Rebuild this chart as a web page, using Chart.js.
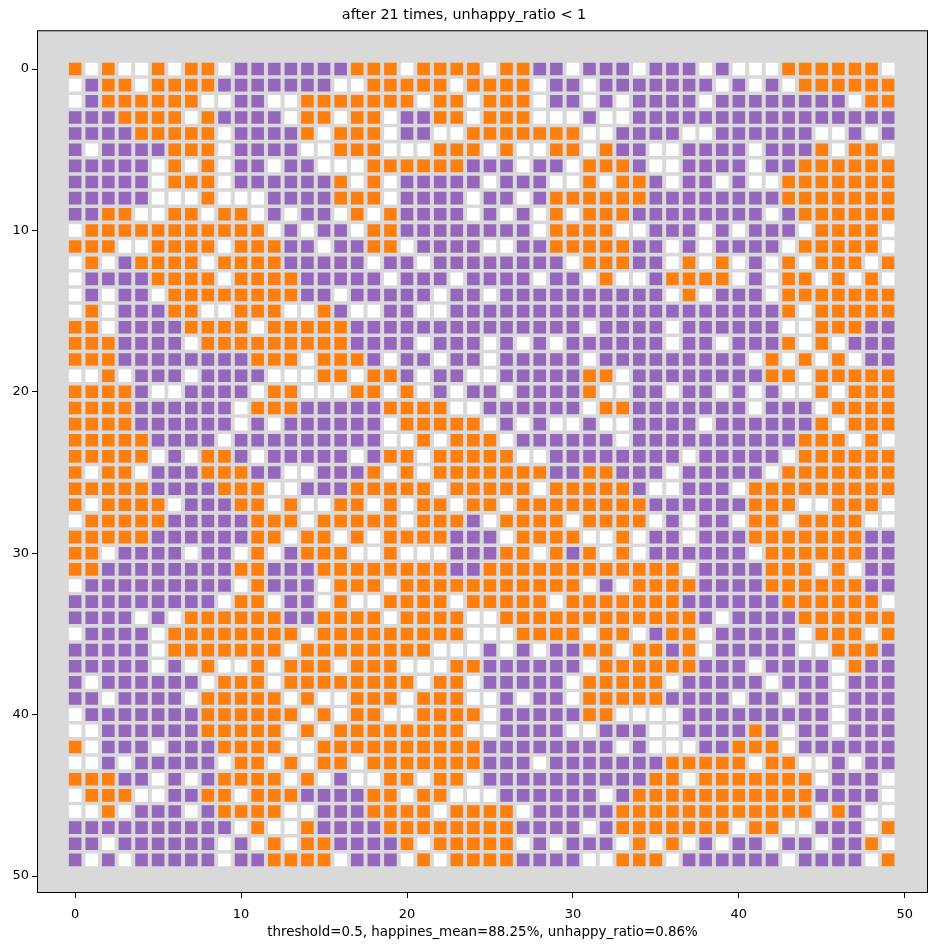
<!DOCTYPE html>
<html>
<head>
<meta charset="utf-8">
<script src="https://cdn.jsdelivr.net/npm/chart.js@4.4.1/dist/chart.umd.min.js"></script>
<style>
  body { margin: 0; background: #fff; }
</style>
</head>
<body>
<canvas id="chart" width="938" height="950"></canvas>
<script>
const titleText = "after 21 times, unhappy_ratio < 1";
const xLabel = "threshold=0.5, happines_mean=88.25%, unhappy_ratio=0.86%";
const xTicks = [0, 10, 20, 30, 40, 50];
const yTicks = [0, 10, 20, 30, 40, 50];

// one string per grid row (y), one char per column (x)
// o = orange agent, p = purple agent, . = empty cell
// spaces only split the row into chunks: cols 0-12 | 13-24 | 25 | 26-36 | 37-49
const gridRows = [
  "o.o..o.oo.ppp ppppooo.oooo . oopp.ppp.pp p.p...oooooo.",
  ".poo.oooopppp ppp..ooooo.o o oo.pp.ppppp pp.p.p.oooooo",
  ".poooooo..pp. .ooooooo.oo. o oo.pp.p.ppp p.pppppppp.oo",
  "pppoooo.opppp .oo.oo.ppoo. o oo...p..ppp ppppppppppppp",
  "ppppooooo.ppp po.ooo.pp..o o ooooo..pppp ..pppppp..p.p",
  "p.ppppooo.ppp p..ooo...ooo . o..oo.opp.. pppp.pppo.oo.",
  "ppppp.o.o.pp. pp...oooooop p p.pp.ooop.. pppp.ppoooooo",
  "ppppp.ooo.ppp pppo.o.ppppp . ppp..o.oop. pp.p..ooooooo",
  "ppppp...o...p pppooo.pppp. p p.poooooopp ppppppooooooo",
  "ppoo..oo.oo.p .pp.o.opppp. p .p.o.oooppp ppppp.poooooo",
  ".ooooooooooo. p.pp.ooppppp p pp.oooo..pp p.p.ppp.oooo.",
  "ooo..oooo.ooo pp.ppoo.pppp . .ppooooopp. p.pppp.ooooo.",
  ".o.poooo.oooo ppppp.pp.ppp p pppp.ooopp. o.o.p.o.ooo.o",
  ".ppppoooo.ooo oppppp.ppp.p p pp.pp.o..po ooo.p.oo.o.o.",
  ".p.pp.ooooooo opp.ppppp.pp . pppppppppp. o.ppp.ooooooo",
  ".o.pppoo..ooo ..op..pp..pp p ppppppppppp ppppppo.ooooo",
  "oo.ppppoooo.o oooopppppppp p ppppp.pppp. pppppp..ooopp",
  "ooopppp.ooooo oooopppp.ppp . p.p.pppppp. pp.pppo.o.ppp",
  "oooppppppppoo o.ooop.pp.pp . ppppp.ppppp pppp.o.o.o.pp",
  "..o.ppp.pppp. ..oo.oop.pp. . pppppoo.ppp pppppoo.ooooo",
  "oooop..pppp.o o...oo.o.p.p p .ppppo..pp. pp.p.p..o.ooo",
  "oooopppppp.oo opppppoooo.. p ppppp.ooppp pppp.ppp.oooo",
  "oooopppppp.p. pppppp.ooooo . p.p..p..ppp p.ppppppo.ooo",
  "ooooopppp.ppp pppppp..o.oo o .pppppp.ppp pppppppooo.o.",
  "ooooo.p.oop.p pppp.poo.ooo o o..pppppppp .ppppp.oooooo",
  "o.oo.pppooopp ..pppo.o.ooo o oooppooppp. ppppp.ooooooo",
  "oooooppppooo. .pppooooo.oo o oo.ooooop.. ppp.ooooooooo",
  "o.oooo.pppoo. o..oo.o.oo.o o .oooooooopp ppppooo..ooo.",
  ".ooooopppppoo o.ooooo.ooop . oooo.oooo.p .pp.oo.oooo..",
  "oooooppppppoo .oo.o.oooopp p .oooo..o.pp .pppooooooopp",
  "oo.pppp.pp.o. pooo..o...pp p oo.opo.o.pp pppp.oooooopp",
  "ooppppppppoop ppoooooooopp o ooooooooooo .ppppooo.o.pp",
  ".ppppppppp.op pp.ooo.ooooo o ooooo.p.ooo oppppoooooopp",
  "ppppppppp.oo. pp.o..oooo.o o ooo.ooooooo ppppppoooooo.",
  "pppp.p.oooooo ppoooo.oooo. . ooooooooooo op.ppppoooooo",
  ".pppp.ooooooo o.ooooooooo. . .oooo.oo.po o.ppppp.ooo.o",
  "ppppp.ooooooo .oooooooo... p .p.ppoo.oop o.ppppp..ooop",
  "ppppp.p.o..o. ooo.ooo...oo p ppppp.ooooo oppp.pppp.opp",
  "p.pppppp.ooo. oooooooo.oo. p pppp.ooooo. ppppp.ppp.ppp",
  "pp.pppp.ooooo .o..ooo.ooo. . p.pp.ooooop ppp.pp.pp.ppp",
  ".pppppppooooo o.o.oo..oooo . pppppoo.... ppppppppp.ppp",
  "..ppppppooooo .o.oooooooo. . pppp..ppp.. ppppop.pp.ppp",
  "o.ppp.pppoooo ..oooooooooo p ppppppp.p.. .ppooo.pppppp",
  "..p.ppppp.oo. o.oo.ooooooo p pp.pppppppo oooo.oo..p.pp",
  "ooopp.p.poooo .o.p..oo.oo. p pppppppppoo .ooooooo.ppp.",
  ".ooo..ppoo.oo oppppoo.oo.. . pppppp.pooo oooooooopppp.",
  "..o.ppp.poooo ..pppoooo.oo o o.pppppoooo oooooooo.op..",
  "pppppppppp.o. .oppppoooooo o opppp.poooo ooo.oo..ppp.o",
  "pp.pppppp.p.o .ooppppo.ooo o o.p.ppp.o.o .p.pp.pp.ppo.",
  "p.p.ppppp.ppo ooo.ppp.o.oo o opppp..ooo. pppppp.pppp.o"
];

const grid = gridRows.map((r, i) => {
  const s = r.replace(/ /g, "");
  if (s.length !== 50) throw new Error("row " + i + " has " + s.length + " cells");
  return s;
});

function cellsOf(kind) {
  const pts = [];
  grid.forEach((row, y) => {
    row.split("").forEach((c, x) => {
      if (c === kind) pts.push({ x, y });
    });
  });
  return pts;
}

const FONT = "'DejaVu Sans', sans-serif";

// grey axes background + black frame, like matplotlib
const frame = {
  id: "frame",
  beforeDatasetsDraw(chart) {
    const { ctx, chartArea: a } = chart;
    ctx.save();
    ctx.fillStyle = "#d9d9d9";
    ctx.fillRect(a.left, a.top, a.right - a.left, a.bottom - a.top);
    ctx.restore();
  },
  afterDraw(chart) {
    const { ctx, chartArea: a } = chart;
    ctx.save();
    ctx.strokeStyle = "#000";
    ctx.lineWidth = 1;
    ctx.strokeRect(a.left + 0.5, a.top + 0.5, a.right - a.left - 1, a.bottom - a.top - 1);
    ctx.restore();
  }
};

function square(color, label, kind) {
  return {
    label,
    data: cellsOf(kind),
    pointStyle: "rect",
    pointRadius: 8.9,
    pointHoverRadius: 8.9,
    pointBorderWidth: 0,
    backgroundColor: color,
    borderColor: color
  };
}

new Chart(document.getElementById("chart"), {
  type: "scatter",
  data: {
    datasets: [
      square("#ff7f0e", "orange", "o"),
      square("#9467bd", "purple", "p"),
      square("#ffffff", "empty", ".")
    ]
  },
  options: {
    responsive: false,
    animation: false,
    layout: { padding: { left: 0, right: 10, top: 0, bottom: 0 } },
    plugins: {
      legend: { display: false },
      tooltip: { enabled: false },
      title: {
        display: true,
        text: titleText,
        color: "#000",
        font: { family: FONT, size: 14.4, weight: "normal" },
        padding: { top: 7, bottom: 6 }
      }
    },
    scales: {
      x: {
        type: "linear",
        min: -2.3,
        max: 51.4,
        afterBuildTicks: s => { s.ticks = xTicks.map(v => ({ value: v })); },
        afterFit: s => { s.height = 57; },
        grid: { drawOnChartArea: false, tickLength: 5, color: "#000" },
        border: { display: false },
        ticks: { color: "#000", font: { family: FONT, size: 13 }, padding: 9, maxRotation: 0 },
        title: {
          display: true,
          text: xLabel,
          color: "#000",
          font: { family: FONT, size: 13.4 },
          padding: { top: 0, bottom: 9 }
        }
      },
      y: {
        type: "linear",
        reverse: true,
        min: -2.4,
        max: 51.05,
        afterBuildTicks: s => { s.ticks = yTicks.map(v => ({ value: v })); },
        afterFit: s => { s.width = 37; },
        grid: { drawOnChartArea: false, tickLength: 5, color: "#000" },
        border: { display: false },
        ticks: { color: "#000", font: { family: FONT, size: 13 }, padding: 3 }
      }
    }
  },
  plugins: [frame]
});
</script>
</body>
</html>
